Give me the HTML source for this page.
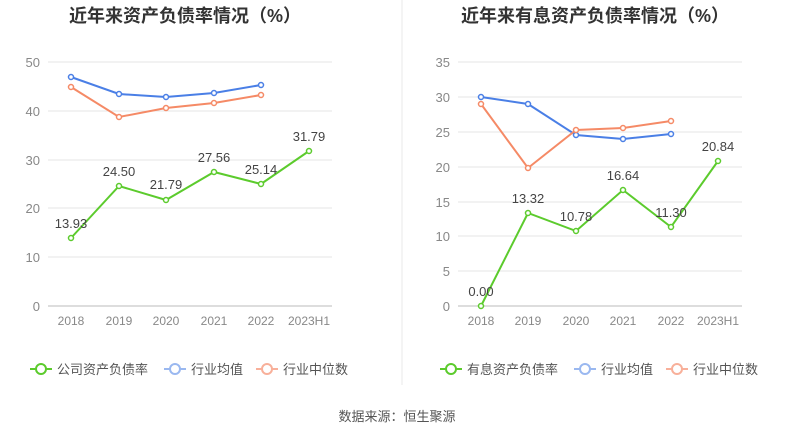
<!DOCTYPE html>
<html><head><meta charset="utf-8"><style>
body{margin:0;background:#fff;width:795px;height:439px;overflow:hidden}
svg text{font-family:"Liberation Sans","Noto Sans CJK SC",sans-serif}
</style></head><body>
<svg width="795" height="439" viewBox="0 0 795 439">
<line x1="402" y1="0" x2="402" y2="385" stroke="#e8e8e8"/>
<text x="185" y="22" font-size="18" font-weight="bold" text-anchor="middle" fill="#333">近年来资产负债率情况（%）</text>
<text x="595" y="22" font-size="18" font-weight="bold" text-anchor="middle" fill="#333">近年来有息资产负债率情况（%）</text>
<g stroke="#e6e6e6">
<line x1="48" y1="62" x2="332" y2="62"/><line x1="48" y1="111" x2="332" y2="111"/><line x1="48" y1="160" x2="332" y2="160"/><line x1="48" y1="208" x2="332" y2="208"/><line x1="48" y1="257" x2="332" y2="257"/>
<line x1="458" y1="62" x2="742" y2="62"/><line x1="458" y1="97" x2="742" y2="97"/><line x1="458" y1="132" x2="742" y2="132"/><line x1="458" y1="167" x2="742" y2="167"/><line x1="458" y1="202" x2="742" y2="202"/><line x1="458" y1="236" x2="742" y2="236"/><line x1="458" y1="271" x2="742" y2="271"/>
</g>
<line x1="48" y1="306" x2="332" y2="306" stroke="#bbb"/>
<line x1="458" y1="306" x2="742" y2="306" stroke="#bbb"/>
<g font-size="13" fill="#888" text-anchor="end">
<text x="40" y="67">50</text><text x="40" y="116">40</text><text x="40" y="165">30</text><text x="40" y="213">20</text><text x="40" y="262">10</text><text x="40" y="311">0</text>
<text x="450" y="67">35</text><text x="450" y="102">30</text><text x="450" y="137">25</text><text x="450" y="172">20</text><text x="450" y="207">15</text><text x="450" y="241">10</text><text x="450" y="276">5</text><text x="450" y="311">0</text>
</g>
<g font-size="12" fill="#888" text-anchor="middle">
<text x="71" y="325">2018</text><text x="119" y="325">2019</text><text x="166" y="325">2020</text><text x="214" y="325">2021</text><text x="261" y="325">2022</text><text x="309" y="325">2023H1</text>
<text x="481" y="325">2018</text><text x="528" y="325">2019</text><text x="576" y="325">2020</text><text x="623" y="325">2021</text><text x="671" y="325">2022</text><text x="718" y="325">2023H1</text>
</g>
<g fill="#fff" stroke-width="1.5">
<polyline points="71,77 119,94 166,97 214,93 261,85" fill="none" stroke="#4a7fe6" stroke-width="2"/>
<polyline points="71,87 119,117 166,108 214,103 261,95" fill="none" stroke="#f58a66" stroke-width="2"/>
<polyline points="71,238 119,186 166,200 214,172 261,184 309,151" fill="none" stroke="#5ccb2d" stroke-width="2"/>
<polyline points="481,97 528,104 576,135 623,139 671,134" fill="none" stroke="#4a7fe6" stroke-width="2"/>
<polyline points="481,104 528,168 576,130 623,128 671,121" fill="none" stroke="#f58a66" stroke-width="2"/>
<polyline points="481,306 528,213 576,231 623,190 671,227 718,161" fill="none" stroke="#5ccb2d" stroke-width="2"/>
<g stroke="#4a7fe6"><circle cx="71" cy="77" r="2.5"/><circle cx="119" cy="94" r="2.5"/><circle cx="166" cy="97" r="2.5"/><circle cx="214" cy="93" r="2.5"/><circle cx="261" cy="85" r="2.5"/>
<circle cx="481" cy="97" r="2.5"/><circle cx="528" cy="104" r="2.5"/><circle cx="576" cy="135" r="2.5"/><circle cx="623" cy="139" r="2.5"/><circle cx="671" cy="134" r="2.5"/></g>
<g stroke="#f58a66"><circle cx="71" cy="87" r="2.5"/><circle cx="119" cy="117" r="2.5"/><circle cx="166" cy="108" r="2.5"/><circle cx="214" cy="103" r="2.5"/><circle cx="261" cy="95" r="2.5"/>
<circle cx="481" cy="104" r="2.5"/><circle cx="528" cy="168" r="2.5"/><circle cx="576" cy="130" r="2.5"/><circle cx="623" cy="128" r="2.5"/><circle cx="671" cy="121" r="2.5"/></g>
<g stroke="#5ccb2d"><circle cx="71" cy="238" r="2.5"/><circle cx="119" cy="186" r="2.5"/><circle cx="166" cy="200" r="2.5"/><circle cx="214" cy="172" r="2.5"/><circle cx="261" cy="184" r="2.5"/><circle cx="309" cy="151" r="2.5"/>
<circle cx="481" cy="306" r="2.5"/><circle cx="528" cy="213" r="2.5"/><circle cx="576" cy="231" r="2.5"/><circle cx="623" cy="190" r="2.5"/><circle cx="671" cy="227" r="2.5"/><circle cx="718" cy="161" r="2.5"/></g>
</g>
<g font-size="13" fill="#444" text-anchor="middle">
<text x="71" y="228">13.93</text><text x="119" y="176">24.50</text><text x="166" y="189">21.79</text><text x="214" y="162">27.56</text><text x="261" y="174">25.14</text><text x="309" y="141">31.79</text>
<text x="481" y="296">0.00</text><text x="528" y="203">13.32</text><text x="576" y="221">10.78</text><text x="623" y="180">16.64</text><text x="671" y="217">11.30</text><text x="718" y="151">20.84</text>
</g>
<g font-size="13" fill="#555">
<line x1="30" y1="369" x2="52" y2="369" stroke="#5ccb2d" stroke-width="2"/><circle cx="41" cy="369" r="5" fill="#fff" stroke="#5ccb2d" stroke-width="2"/><text x="57" y="374">公司资产负债率</text>
<line x1="164" y1="369" x2="186" y2="369" stroke="#9ab8f0" stroke-width="2"/><circle cx="175" cy="369" r="5" fill="#fff" stroke="#9ab8f0" stroke-width="2"/><text x="191" y="374">行业均值</text>
<line x1="256" y1="369" x2="278" y2="369" stroke="#f8b09a" stroke-width="2"/><circle cx="267" cy="369" r="5" fill="#fff" stroke="#f8b09a" stroke-width="2"/><text x="283" y="374">行业中位数</text>
<line x1="440" y1="369" x2="462" y2="369" stroke="#5ccb2d" stroke-width="2"/><circle cx="451" cy="369" r="5" fill="#fff" stroke="#5ccb2d" stroke-width="2"/><text x="467" y="374">有息资产负债率</text>
<line x1="574" y1="369" x2="596" y2="369" stroke="#9ab8f0" stroke-width="2"/><circle cx="585" cy="369" r="5" fill="#fff" stroke="#9ab8f0" stroke-width="2"/><text x="601" y="374">行业均值</text>
<line x1="666" y1="369" x2="688" y2="369" stroke="#f8b09a" stroke-width="2"/><circle cx="677" cy="369" r="5" fill="#fff" stroke="#f8b09a" stroke-width="2"/><text x="693" y="374">行业中位数</text>
</g>
<text x="397" y="421" font-size="13" fill="#555" text-anchor="middle">数据来源：恒生聚源</text>
</svg>
</body></html>
